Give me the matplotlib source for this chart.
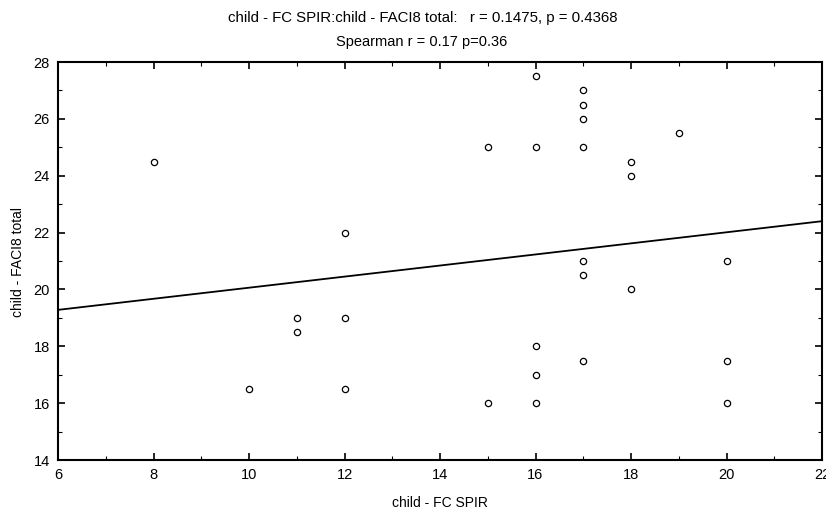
import numpy as np
import matplotlib
matplotlib.use("Agg")
import matplotlib.pyplot as plt
from matplotlib.ticker import MultipleLocator

# values
spir = [8, 10, 11, 11, 12, 12, 12, 15, 15, 16, 16, 16, 16, 16,
        17, 17, 17, 17, 17, 17, 17, 18, 18, 18, 19, 20, 20, 20]
faci8 = [24.5, 16.5, 19, 18.5, 22, 19, 16.5, 25, 16, 27.5, 25, 18, 17, 16,
         27, 26.5, 26, 25, 21, 20.5, 17.5, 24.5, 24, 20, 25.5, 21, 17.5, 16]

title1 = "child - FC SPIR:child - FACI8 total:   r = 0.1475, p = 0.4368"
title2 = "Spearman r = 0.17 p=0.36"
xlabel = "child - FC SPIR"
ylabel = "child - FACI8 total"

plt.rcParams['font.family'] = ['Liberation Sans', 'DejaVu Sans']

fig = plt.figure(figsize=(8.26, 5.19), dpi=100)
ax = fig.add_axes([58 / 826, 1 - 460 / 519, (822 - 58) / 826, (460 - 62) / 519])

x = np.array(spir, dtype=float)
y = np.array(faci8, dtype=float)
slope, icpt = np.polyfit(x, y, 1)
xx = np.array([6, 22])
ax.plot(xx, slope * xx + icpt, color='black', lw=1.3, zorder=2)

ax.plot(x, y, linestyle='none', marker='o', markersize=4.5,
        mfc='white', mec='black', mew=0.9, zorder=3)

ax.set_xlim(6, 22)
ax.set_ylim(14, 28)
ax.xaxis.set_major_locator(MultipleLocator(2))
ax.xaxis.set_minor_locator(MultipleLocator(1))
ax.yaxis.set_major_locator(MultipleLocator(2))
ax.yaxis.set_minor_locator(MultipleLocator(1))
ax.tick_params(which='both', direction='in', top=True, right=True,
               labelsize=10.5, pad=6)
ax.tick_params(which='major', length=5, width=1.2)
ax.tick_params(which='minor', length=3, width=0.8)
for s in ax.spines.values():
    s.set_linewidth(1.5)

fig.text(423 / 826, 1 - 18 / 519, title1, ha='center', va='center', fontsize=10.8)
fig.text(422 / 826, 1 - 42 / 519, title2, ha='center', va='center', fontsize=10.5)
fig.text(440 / 826, 1 - 503 / 519, xlabel, ha='center', va='center', fontsize=10)
fig.text(18 / 826, 1 - 262 / 519, ylabel, ha='center', va='center',
         fontsize=10, rotation=90)

fig.savefig("out.png", dpi=100)
